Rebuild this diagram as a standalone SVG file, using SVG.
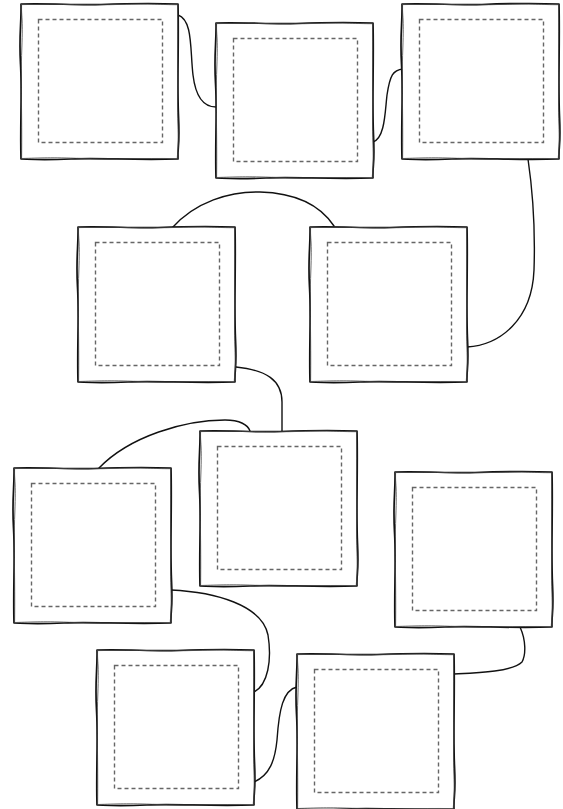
<svg xmlns="http://www.w3.org/2000/svg" xmlns:xlink="http://www.w3.org/1999/xlink" width="563" height="809" viewBox="0 0 563 809">
<style>
.bg{fill:#ffffff;stroke:none}
.edge{fill:none;stroke:#111;stroke-width:1.7;stroke-linecap:round;stroke-linejoin:round}
.edge2{fill:none;stroke:#444;stroke-width:0.8;stroke-linecap:round;stroke-linejoin:round}
.inner{fill:none;stroke:#666;stroke-width:1.4;stroke-dasharray:4 3}
.conn{fill:none;stroke:#111;stroke-width:1.4;stroke-linecap:round}
</style>
<defs>
<g id="box">
<rect class="bg" x="0" y="0" width="157" height="155"/>
<path class="edge" d="M0,0 C30,-1 55,1.5 80,0.5 S130,-1 157,0 C158,40 156,80 157.5,112 S156.5,140 157,155 C110,156.5 80,153.5 50,155 S12,155.5 0,155 C-1,120 1.2,90 -0.5,60 S0.5,20 0,0 Z"/>
<path class="edge2" d="M0.6,0.6 C40,-0.3 70,1.5 100,0.4 S140,0.8 156.6,0.7 C157,50 156,90 156.9,120 S156.3,148 156.3,154.6 C120,154 90,155.8 60,154.5 S20,154 0.6,154.5 C1.2,110 -0.5,80 0.8,45 S0.2,15 0.6,0.6"/>
<rect class="inner" x="17.5" y="15.5" width="124" height="123"/>
</g>
</defs>
<g id="connectors">
<path class="conn" d="M178,15 C193,20 190,50 193,75 C196,100 205,107 216,107"/>
<path class="conn" d="M373,142 C385,138 385,112 387,95 C390,75 393,70 403,69"/>
<path class="conn" d="M528,159 C534,200 535,240 534,270 C532,320 500,345 467,347"/>
<path class="conn" d="M172,228 C195,202 230,191 260,192 C295,193 320,205 334,226"/>
<path class="conn" d="M236,367 C266,370 282,380 282,402 L282,431"/>
<path class="conn" d="M99,468 C130,436 185,420 225,420 C240,420 248,425 250,431"/>
<path class="conn" d="M171,590 C215,592 262,605 268,635 C272,660 268,685 254,692"/>
<path class="conn" d="M254,782 C270,775 275,760 277,740 C279,710 283,690 297,687"/>
<path class="conn" d="M520,627 C526,640 526,655 522,662 C512,672 475,673 454,674"/>
</g>
<g id="node1" transform="translate(21,4)"><use xlink:href="#box"/></g>
<g id="node2" transform="translate(216,23)"><use xlink:href="#box"/></g>
<g id="node3" transform="translate(402,4)"><use xlink:href="#box"/></g>
<g id="node4" transform="translate(78,227)"><use xlink:href="#box"/></g>
<g id="node5" transform="translate(310,227)"><use xlink:href="#box"/></g>
<g id="node6" transform="translate(200,431)"><use xlink:href="#box"/></g>
<g id="node7" transform="translate(14,468)"><use xlink:href="#box"/></g>
<g id="node8" transform="translate(395,472)"><use xlink:href="#box"/></g>
<g id="node9" transform="translate(97,650)"><use xlink:href="#box"/></g>
<g id="node10" transform="translate(297,654)"><use xlink:href="#box"/></g>
</svg>
